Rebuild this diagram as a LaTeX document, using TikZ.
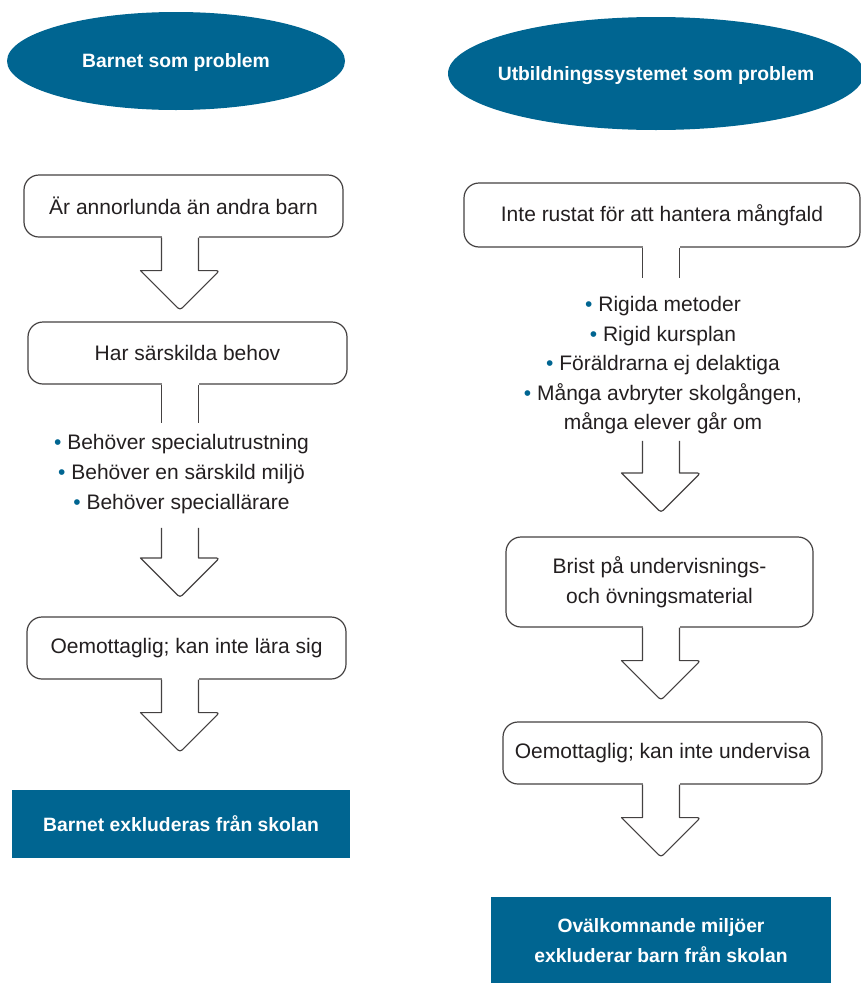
\documentclass[tikz,border=0pt]{standalone}
\usepackage{fontspec}
\setmainfont{Liberation Sans}
\usetikzlibrary{shapes.geometric,calc}
\definecolor{unblue}{RGB}{0,101,145}
\definecolor{ink}{RGB}{35,31,32}
\tikzset{
  every node/.style={font=\fontsize{21}{29.5}\selectfont, text=ink},
  box/.style={draw=ink!85, line width=1.2pt, rounded corners=15pt, fill=white, align=center, inner sep=0pt},
  topic/.style={ellipse, fill=unblue, text=white, font=\fontsize{19.3}{23}\selectfont\bfseries, inner sep=0pt, text depth=0pt},
  outcome/.style={fill=unblue, text=white, font=\fontsize{19.3}{30}\selectfont\bfseries, align=center, inner sep=0pt},
  bullets/.style={align=center, inner xsep=0pt, inner ysep=12pt},
  pics/downarr/.style={code={
    \fill[white] (-18.5,-1.5) rectangle (18.5,#1);
    \draw[draw=ink!85, line width=1.2pt, line join=round] (-18.5,0) -- (-18.5,#1) -- (-39.5,#1)
      [rounded corners=3pt] -- (0,#1+39.5) -- (39.5,#1) [sharp corners] -- (18.5,#1) -- (18.5,0);
  }},
  pics/stem/.style={code={
    \fill[white] (-18.5,-1.5) rectangle (18.5,#1);
    \draw[draw=ink!85, line width=1.2pt] (-18.5,0) -- (-18.5,#1) (18.5,0) -- (18.5,#1);
  }}
}
\newcommand{\bul}{{\color{unblue}\textbullet}~}
\begin{document}
\begin{tikzpicture}[x=1pt, y=-1pt]
\useasboundingbox (0,0) rectangle (861,983);
\coordinate (L) at (180,0);
\coordinate (R) at (661,0);
% left column: the child as the problem
\node[topic, minimum width=338pt, minimum height=98pt] (lhead) at (176,61) {\makebox[0pt]{Barnet som problem}};
\node[box, minimum width=319pt, minimum height=62pt] (l1) at (183.5,206) {Är annorlunda än andra barn};
\node[box, minimum width=319pt, minimum height=62pt] (l2) at (187.5,353) {Har särskilda behov};
\node[bullets, font=\fontsize{21}{30}\selectfont] (lb) at (181.5,474) {\bul Behöver specialutrustning\\ \bul Behöver en särskild miljö\\ \bul Behöver speciallärare};
\node[box, minimum width=319pt, minimum height=62pt] (l3) at (186.5,648) {Oemottaglig; kan inte lära sig};
\node[outcome, minimum width=338pt, minimum height=68pt] (lout) at (181,824) {Barnet exkluderas från skolan};
\pic at (l1.south -| L) {downarr=33};
\pic at (l2.south -| L) {stem=38};
\pic at ($(lb.south -| L)+(0,2)$) {downarr=30};
\pic at (l3.south -| L) {downarr=33};
% right column: the school system as the problem
\node[topic, minimum width=416pt, minimum height=113pt] (rhead) at (656,73.5) {\makebox[0pt]{Utbildningssystemet som problem}};
\node[box, minimum width=396pt, minimum height=64pt] (r1) at (662,215) {Inte rustat för att hantera mångfald};
\node[bullets] (rb) at (663,365.5) {\bul Rigida metoder\\ \bul Rigid kursplan\\ \bul Föräldrarna ej delaktiga\\ \bul Många avbryter skolgången,\\ många elever går om};
\node[box, minimum width=307pt, minimum height=90pt] (r2) at (659.5,582) {Brist på undervisnings-\\och övningsmaterial};
\node[box, minimum width=319pt, minimum height=62pt] (r3) at (662.5,753) {Oemottaglig; kan inte undervisa};
\node[outcome, minimum width=340pt, minimum height=88pt] (rout) at (661,941) {Ovälkomnande miljöer\\exkluderar barn från skolan};
\pic at (r1.south -| R) {stem=30};
\pic at ($(rb.south -| R)+(0,-5.5)$) {downarr=32};
\pic at (r2.south -| R) {downarr=33};
\pic at (r3.south -| R) {downarr=33};
\end{tikzpicture}
\end{document}
